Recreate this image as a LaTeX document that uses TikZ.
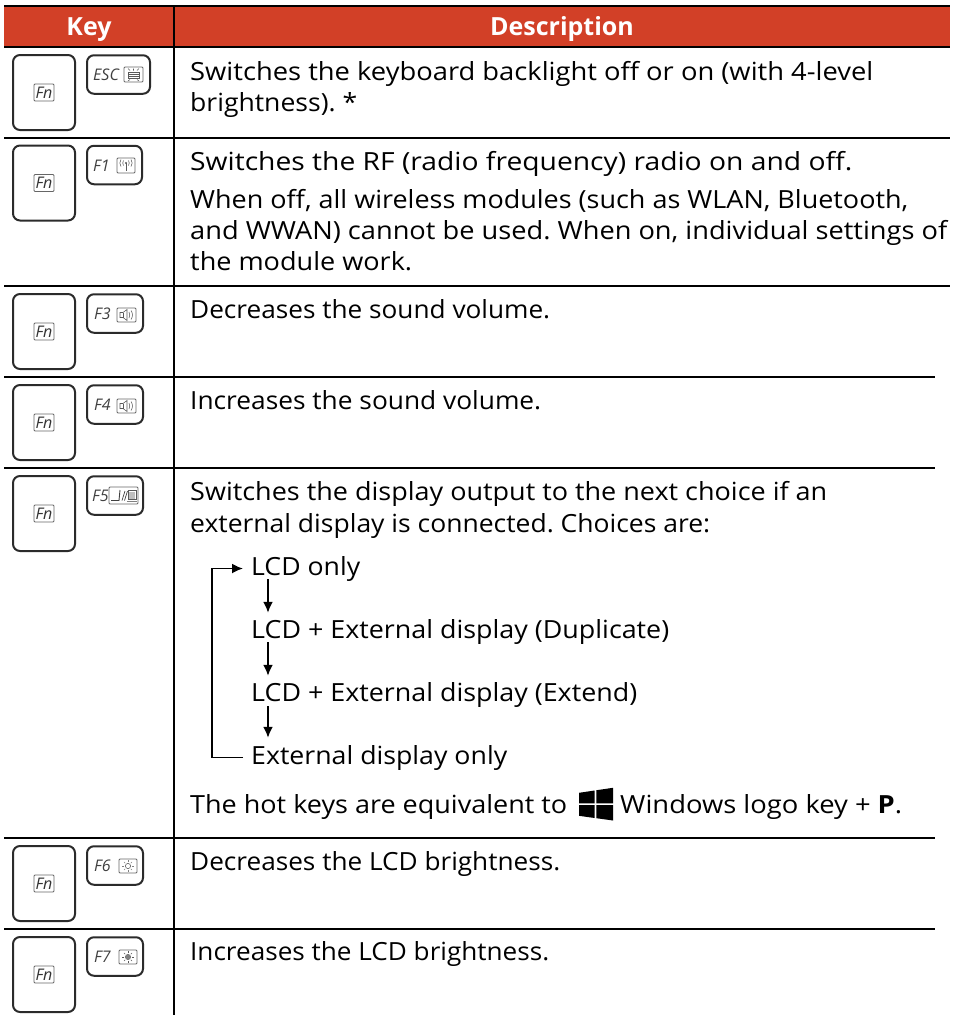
\documentclass[tikz,border=0pt]{standalone}
\usepackage{fontspec}
\usepackage{graphicx}
\setmainfont{Open Sans}
\usetikzlibrary{arrows.meta}
\definecolor{headred}{HTML}{D24027}
\definecolor{keyline}{HTML}{2B2B2B}
\definecolor{icongray}{HTML}{666666}
\newcommand{\fitline}[2]{\resizebox{#1pt}{\height}{#2}}
\frenchspacing
\tikzset{
  body/.style={anchor=base west,inner sep=0pt,font=\fontsize{25}{25}\selectfont,text=black},
  head/.style={anchor=base,inner sep=0pt,font=\fontsize{25}{25}\selectfont\bfseries,text=white},
  rule/.style={line width=2pt,black},
  bigkey/.style={draw=keyline,line width=2pt,rounded corners=7pt,minimum width=62pt,minimum height=75pt,inner sep=0pt},
  smallkey/.style={draw=keyline,line width=2pt,rounded corners=7pt,minimum height=38.5pt,inner sep=0pt},
  fnbox/.style={draw=icongray,line width=.8pt,rounded corners=1pt,minimum width=20pt,minimum height=17pt,inner sep=0pt,font=\fontsize{16}{16}\selectfont\itshape,text=black!80},
  flabel/.style={anchor=base west,inner sep=0pt,font=\fontsize{16}{16}\selectfont\itshape,text=black!75},
  iconbox/.style={draw=icongray,line width=.8pt,rounded corners=1pt,inner sep=0pt},
  iconline/.style={draw=black!65,line width=.55pt},
  flow/.style={line width=1.9pt,black,-{Latex[length=11pt,width=10pt]}},
  back/.style={line width=1.8pt,black,-{Latex[length=11pt,width=10pt]}},
}
% #1 id, #2 top rule y, #3 small key width, #4 label, #5 label x
\newcommand{\keyrow}[5]{%
  \node[bigkey] (big#1) at (44,#2+45.5) {};
  \node[fnbox] (fn#1) at (44,#2+45.5) {Fn};
  \node[smallkey,minimum width=#3pt] (small#1) at (87+#3/2,#2+27.5) {};
  \node[flabel] (lab#1) at (#5,#2+33.5) {#4};
}
\begin{document}
\begin{tikzpicture}[x=1pt,y=-1pt]
\useasboundingbox (0,0) rectangle (955,1015);
\fill[headred] (4,6) rectangle (950,46);
\draw[rule] (4,5.5) -- (950,5.5);
\draw[rule] (4,47) -- (950,47);
\draw[rule] (4,137.5) -- (950,137.5);
\draw[rule] (4,286) -- (950,286);
\draw[rule] (4,377) -- (935,377);
\draw[rule] (4,468) -- (935,468);
\draw[rule] (4,838) -- (935,838);
\draw[rule] (4,929) -- (935,929);
\draw[rule] (174,5) -- (174,1015);
\node[head] (hkey) at (89,35) {Key};
\node[head] (hdesc) at (562,35) {Description};

\keyrow{a}{47}{63}{ESC}{93}
\keyrow{b}{137.5}{55}{F1}{93}
\keyrow{c}{286}{56}{F3}{94}
\keyrow{d}{377}{56}{F4}{94}
\keyrow{e}{468}{56}{F5}{92}
\keyrow{f}{838}{56}{F6}{94}
\keyrow{g}{929}{56}{F7}{94}

% ESC icon: keyboard with light rays
\node[iconbox,minimum width=19pt,minimum height=15pt] (ia) at (133.5,74.5) {};
\draw[iconline] (128,72) rectangle (139,78);
\draw[iconline] (128,74) -- (139,74) (128,76) -- (139,76);
\draw[iconline] (130,70.5) -- (128,68.5) (133.5,70.5) -- (133.5,68.5) (137,70.5) -- (139,68.5);
\draw[iconline] (130,79.5) -- (128,81) (137,79.5) -- (139,81);
% F1 icon: antenna
\node[iconbox,minimum width=18pt,minimum height=15pt] (ib) at (126,165.5) {};
\draw[iconline] (126,163) -- (126,171);
\fill[black!65] (126,163) circle (1.1pt);
\draw[iconline] (123.5,160.5) .. controls (122.5,162) and (122.5,164) .. (123.5,165.5);
\draw[iconline] (128.5,160.5) .. controls (129.5,162) and (129.5,164) .. (128.5,165.5);
\draw[iconline] (121,159.5) .. controls (119.5,162) and (119.5,164) .. (121,166.5);
\draw[iconline] (131,159.5) .. controls (132.5,162) and (132.5,164) .. (131,166.5);
% F3 icon: speaker low
\node[iconbox,minimum width=19pt,minimum height=14pt] (ic) at (126.5,315) {};
\draw[iconline] (120,312.5) -- (123,312.5) -- (127,309.5) -- (127,320.5) -- (123,317.5) -- (120,317.5) -- cycle;
\draw[iconline] (123,312.5) -- (123,317.5);
\draw[iconline] (129,312) .. controls (130,314) and (130,316) .. (129,318);
\draw[iconline] (131,310.5) .. controls (133,313.5) and (133,316.5) .. (131,319.5);
% F4 icon: speaker high
\node[iconbox,minimum width=19pt,minimum height=14pt] (id) at (126.5,406) {};
\draw[iconline] (120,403.5) -- (123,403.5) -- (127,400.5) -- (127,411.5) -- (123,408.5) -- (120,408.5) -- cycle;
\draw[iconline] (123,403.5) -- (123,408.5);
\draw[iconline] (129,403) .. controls (130,405) and (130,407) .. (129,409);
\draw[iconline] (131,401.5) .. controls (133,404.5) and (133,407.5) .. (131,410.5);
% F5 icon: notebook and monitor
\node[iconbox,minimum width=29pt,minimum height=17pt] (ie) at (123.5,495.5) {};
\draw[line width=.9pt,black!75] (111,500.5) -- (119,500.5) -- (120,490);
\draw[line width=.7pt,black!75] (122,500.5) -- (125,491) (124.5,500.5) -- (127.5,491);
\draw[line width=.9pt,black!65] (128,490.5) rectangle (136,499.5);
\fill[black!25] (129,491.5) rectangle (135,498.5);
\draw[black!50,line width=.7pt] (127,501.5) -- (137,501.5);
% F6 and F7 icons: sun
\node[iconbox,minimum width=18pt,minimum height=14pt] (if) at (128,866) {};
\draw[iconline] (128,866) circle (2.6pt);
\foreach \a in {0,45,...,315} \draw[iconline,black!50] (128,866) ++(\a:3.9) -- ++(\a:1.8);
\node[iconbox,minimum width=18pt,minimum height=14pt] (ig) at (128,957) {};
\draw[iconline] (128,957) circle (2.6pt);
\fill[black!50] (128,957) circle (2.6pt);
\foreach \a in {0,45,...,315} \draw[iconline] (128,957) ++(\a:3.9) -- ++(\a:1.8);

% Text
\node[body] (t1a) at (190,80) {\fitline{683}{Switches the keyboard backlight off or on (with 4-level}};
\node[body] (t1b) at (190,111) {\fitline{167}{brightness). *}};
\node[body] (t2a) at (190,170) {\fitline{662}{Switches the RF (radio frequency) radio on and off.}};
\node[body] (t2b) at (190,208) {\fitline{718}{When off, all wireless modules (such as WLAN, Bluetooth,}};
\node[body] (t2c) at (190,239) {\fitline{757}{and WWAN) cannot be used. When on, individual settings of}};
\node[body] (t2d) at (190,270) {\fitline{222}{the module work.}};
\node[body] (t3) at (190,318) {\fitline{360}{Decreases the sound volume.}};
\node[body] (t4) at (190,409) {\fitline{351}{Increases the sound volume.}};
\node[body] (t5a) at (190,500) {\fitline{637}{Switches the display output to the next choice if an}};
\node[body] (t5b) at (190,532) {\fitline{520}{external display is connected. Choices are:}};
\node[body] (lcd) at (251,575) {\fitline{109}{LCD only}};
\node[body] (dup) at (251,638) {\fitline{418}{LCD + External display (Duplicate)}};
\node[body] (ext) at (251,701) {\fitline{386}{LCD + External display (Extend)}};
\node[body] (only) at (251,764) {\fitline{256}{External display only}};
\node[body] (hot) at (190,813) {\fitline{377}{The hot keys are equivalent to}};
\node[body] (win) at (620,813) {\fitline{282}{Windows logo key + \textbf{P}.}};
\node[body] (t6) at (190,870) {\fitline{370}{Decreases the LCD brightness.}};
\node[body] (t7) at (190,960) {\fitline{359}{Increases the LCD brightness.}};

% Windows logo
\fill[black] (579,792.8) -- (594.6,790.5) -- (594.6,803.4) -- (579,803.4) -- cycle;
\fill[black] (596.4,790.2) -- (613,787.8) -- (613,803.4) -- (596.4,803.4) -- cycle;
\fill[black] (579,805.2) -- (594.6,805.2) -- (594.6,818) -- (579,815.8) -- cycle;
\fill[black] (596.4,805.2) -- (613,805.2) -- (613,820.5) -- (596.4,818.2) -- cycle;

% Flow arrows
\draw[flow] ([xshift=17pt,yshift=2pt]lcd.south west) -- ([xshift=17pt,yshift=6pt]dup.north west);
\draw[flow] ([xshift=17pt,yshift=2pt]dup.south west) -- ([xshift=17pt,yshift=6pt]ext.north west);
\draw[flow] ([xshift=17pt,yshift=1pt]ext.south west) -- ([xshift=17pt,yshift=7pt]only.north west);
\draw[back] ([xshift=-8pt]only.west) -- ++(-31,0) |- ([xshift=-8pt]lcd.west);
\end{tikzpicture}
\end{document}
